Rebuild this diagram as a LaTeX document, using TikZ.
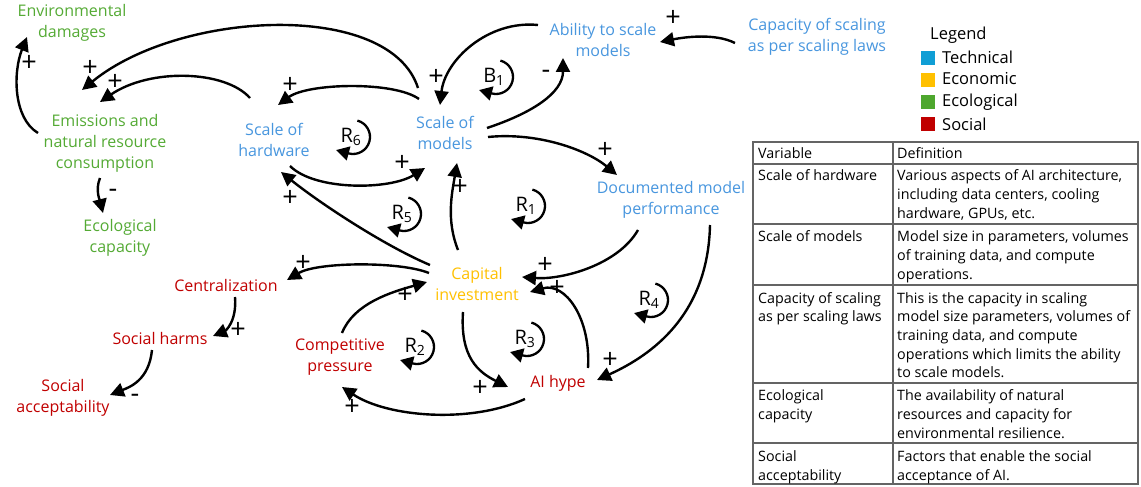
\documentclass[tikz,border=0pt]{standalone}
\usepackage{fontspec}
\setmainfont{Open Sans}
\usetikzlibrary{arrows.meta}
\definecolor{techtxt}{RGB}{72,150,222}
\definecolor{ecotxt}{RGB}{255,192,0}
\definecolor{greentxt}{RGB}{84,170,52}
\definecolor{redtxt}{RGB}{192,0,0}
\definecolor{legblue}{RGB}{16,158,213}
\definecolor{leggreen}{RGB}{78,167,46}
\definecolor{legred}{RGB}{192,0,0}
\definecolor{legorange}{RGB}{255,192,0}
\definecolor{tabline}{RGB}{100,100,100}
\begin{document}
\begin{tikzpicture}[x=1pt,y=1pt,
  var/.style={align=center,font=\fontsize{16}{21}\selectfont,inner sep=0pt},
  tech/.style={var,text=techtxt},
  econ/.style={var,text=ecotxt},
  ecol/.style={var,text=greentxt},
  soc/.style={var,text=redtxt},
  link/.style={line width=2.4pt,-{Triangle[length=14pt,width=14pt]}},
  pol/.style={font=\fontsize{27}{27}\selectfont,inner sep=0pt},
  loopar/.style={line width=2.3pt,-{Triangle[length=13pt,width=14pt]}},
  looplbl/.style={font=\fontsize{20}{20}\selectfont,inner sep=0pt},
  cell/.style={anchor=north west,align=left,inner sep=0pt,font=\fontsize{14.3}{18.6}\selectfont},
  legtxt/.style={anchor=west,inner sep=0pt,font=\fontsize{16.5}{16.5}\selectfont},
  legbox/.style={minimum width=15pt,minimum height=15pt,inner sep=0pt,draw=white,line width=0.6pt}
]
\useasboundingbox (0,0) rectangle (1141,-487);

% variables
\node[ecol] (envd) at (72,-23) {Environmental\\damages};
\node[ecol] (emis) at (105,-143) {Emissions and\\natural resource\\consumption};
\node[ecol] (ecolc) at (120,-238) {Ecological\\capacity};
\node[tech] (sh) at (274,-140) {Scale of\\hardware};
\node[tech] (sm) at (445,-133) {Scale of\\models};
\node[tech] (abil) at (603,-40) {Ability to scale\\models};
\node[tech] (capsc) at (817,-37) {Capacity of scaling\\as per scaling laws};
\node[tech] (doc) at (671,-200) {Documented model\\performance};
\node[econ] (capinv) at (477,-284) {Capital\\investment};
\node[soc] (cent) at (226,-285) {Centralization};
\node[soc] (sharm) at (160,-338) {Social harms};
\node[soc] (sacc) at (63,-398) {Social\\acceptability};
\node[soc] (comp) at (340,-357) {Competitive\\pressure};
\node[soc] (aih) at (558,-383) {AI hype};

% links
\draw[link] ([shift={(-27,45)}]sm.center) .. controls +(-28,88) and +(98,80) .. ([shift={(-23,53)}]emis.center);
\draw[link] ([shift={(-24,42)}]sh.center) .. controls +(-25,28) and +(50,34) .. ([shift={(-5,41)}]emis.center);
\draw[link] ([shift={(-67,10)}]emis.center) .. controls +(-25,15) and +(-14,-35) .. ([shift={(-45,-14)}]envd.center);
\draw[link] ([shift={(-5,-35)}]emis.center) .. controls +(-5,-12) and +(-3,12) .. ([shift={(-17,25)}]ecolc.center);
\draw[link] ([shift={(-26,34)}]sm.center) .. controls +(-25,18) and +(30,22) .. ([shift={(4,35)}]sh.center);
\draw[link] ([shift={(16,-26)}]sh.center) .. controls +(25,-25) and +(-35,-22) .. ([shift={(-20,-35)}]sm.center);
\draw[link] ([shift={(-47,19)}]capinv.center) .. controls +(-45,19) and +(40,-32) .. ([shift={(7,-32)}]sh.center);
\draw[link] ([shift={(-48,11)}]capinv.center) .. controls +(-30,12) and +(30,18) .. ([shift={(61,5)}]cent.center);
\draw[link] ([shift={(2,24)}]comp.center) .. controls +(12,30) and +(-35,-10) .. ([shift={(-50,2)}]capinv.center);
\draw[link] ([shift={(-19,34)}]capinv.center) .. controls +(-12,30) and +(-5,-30) .. ([shift={(12,-30)}]sm.center);
\draw[link] ([shift={(42,5)}]sm.center) .. controls +(45,15) and +(0,-35) .. ([shift={(-40,-18)}]abil.center);
\draw[link] ([shift={(-65,15)}]abil.center) .. controls +(-50,5) and +(5,45) .. ([shift={(-5,28)}]sm.center);
\draw[link] ([shift={(-82,-6)}]capsc.center) .. controls +(-20,10) and +(25,5) .. ([shift={(57,-2)}]abil.center);
\draw[link] ([shift={(43,-4)}]sm.center) .. controls +(50,5) and +(-30,25) .. ([shift={(-54,25)}]doc.center);
\draw[link] ([shift={(-33,-30)}]doc.center) .. controls +(-20,-35) and +(40,-3) .. ([shift={(45,7)}]capinv.center);
\draw[link] ([shift={(39,-25)}]doc.center) .. controls +(-2,-90) and +(55,25) .. ([shift={(39,3)}]aih.center);
\draw[link] ([shift={(30,15)}]aih.center) .. controls +(3,50) and +(35,10) .. ([shift={(53,-8)}]capinv.center);
\draw[link] ([shift={(-14,-28)}]capinv.center) .. controls +(-3,-45) and +(-30,15) .. ([shift={(-50,-4)}]aih.center);
\draw[link] ([shift={(-33,-16)}]aih.center) .. controls +(-55,-25) and +(45,-30) .. ([shift={(2,-30)}]comp.center);
\draw[link] ([shift={(9,-12)}]cent.center) .. controls +(2,-25) and +(12,5) .. ([shift={(53,2)}]sharm.center);
\draw[link] ([shift={(-8,-12)}]sharm.center) .. controls +(-3,-30) and +(20,8) .. ([shift={(47,3)}]sacc.center);

% polarities
\node[pol] (p1) at (90,-68) {+};
\node[pol] (p2) at (115,-82) {+};
\node[pol] (p3) at (29,-63) {+};
\node[pol] (p4) at (113,-193) {-};
\node[pol] (p5) at (290,-85) {+};
\node[pol] (p6) at (402,-163) {+};
\node[pol] (p7) at (290,-198) {+};
\node[pol] (p8) at (303,-263) {+};
\node[pol] (p9) at (405,-295) {+};
\node[pol] (p10) at (460,-187) {+};
\node[pol] (p11) at (546,-74) {-};
\node[pol] (p12) at (436,-77) {+};
\node[pol] (p13) at (673,-18) {+};
\node[pol] (p14) at (605,-150) {+};
\node[pol] (p15) at (545,-265) {+};
\node[pol] (p16) at (610,-360) {+};
\node[pol] (p17) at (557,-288) {+};
\node[pol] (p18) at (480,-388) {+};
\node[pol] (p19) at (352,-407) {+};
\node[pol] (p20) at (238,-330) {+};
\node[pol] (p21) at (135,-398) {-};

% loops
\node[looplbl] (lB1) at (494,-77) {B\textsubscript{1}};
\node[looplbl] (lR6) at (351,-137) {R\textsubscript{6}};
\node[looplbl] (lR5) at (402,-214) {R\textsubscript{5}};
\node[looplbl] (lR1) at (526,-206) {R\textsubscript{1}};
\node[looplbl] (lR2) at (415,-347) {R\textsubscript{2}};
\node[looplbl] (lR3) at (525,-339) {R\textsubscript{3}};
\node[looplbl] (lR4) at (649,-300) {R\textsubscript{4}};
\foreach \l in {lB1,lR6,lR5,lR1,lR2,lR3,lR4}
  \draw[loopar] ([shift={(6.4,16.42)}]\l.center) arc[start angle=75,end angle=-105,radius=17] -- ++(165:13);

% legend
\node[legtxt] (legt) at (930,-35) {Legend};
\node[legbox,fill=legblue] (k1) at (928,-57.5) {};
\node[legbox,fill=legorange] (k2) at (928,-79.5) {};
\node[legbox,fill=leggreen] (k3) at (928,-101.5) {};
\node[legbox,fill=legred] (k4) at (928,-123.5) {};
\node[legtxt] (t1) at (942,-57) {Technical};
\node[legtxt] (t2) at (942,-79) {Economic};
\node[legtxt] (t3) at (942,-102) {Ecological};
\node[legtxt] (t4) at (942,-124) {Social};

% table
\draw[tabline,line width=1.2pt] (753,-142) rectangle (1138,-484);
\draw[tabline,line width=1.2pt] (893,-142) -- (893,-484);
\foreach \yy in {164,224,285,383,443}
  \draw[tabline,line width=1.2pt] (753,-\yy) -- (1138,-\yy);
\node[cell] (c01) at (758,-145.3) {\strut Variable};
\node[cell] (c02) at (897,-145.3) {\strut Definition};
\node[cell] (c11) at (758,-167.7) {\strut Scale of hardware};
\node[cell] (c12) at (897,-167.7) {\strut Various aspects of AI architecture,\\including data centers, cooling\\hardware, GPUs, etc.};
\node[cell] (c21) at (758,-228.7) {\strut Scale of models};
\node[cell] (c22) at (897,-228.7) {\strut Model size in parameters, volumes\\of training data, and compute\\operations.};
\node[cell] (c31) at (758,-290) {\strut Capacity of scaling\\as per scaling laws};
\node[cell] (c32) at (897,-290) {\strut This is the capacity in scaling\\model size parameters, volumes of\\training data, and compute\\operations which limits the ability\\to scale models.};
\node[cell] (c41) at (758,-387.7) {\strut Ecological\\capacity};
\node[cell] (c42) at (897,-387.7) {\strut The availability of natural\\resources and capacity for\\environmental resilience.};
\node[cell] (c51) at (758,-448.7) {\strut Social\\acceptability};
\node[cell] (c52) at (897,-448.7) {\strut Factors that enable the social\\acceptance of AI.};
\end{tikzpicture}
\end{document}
